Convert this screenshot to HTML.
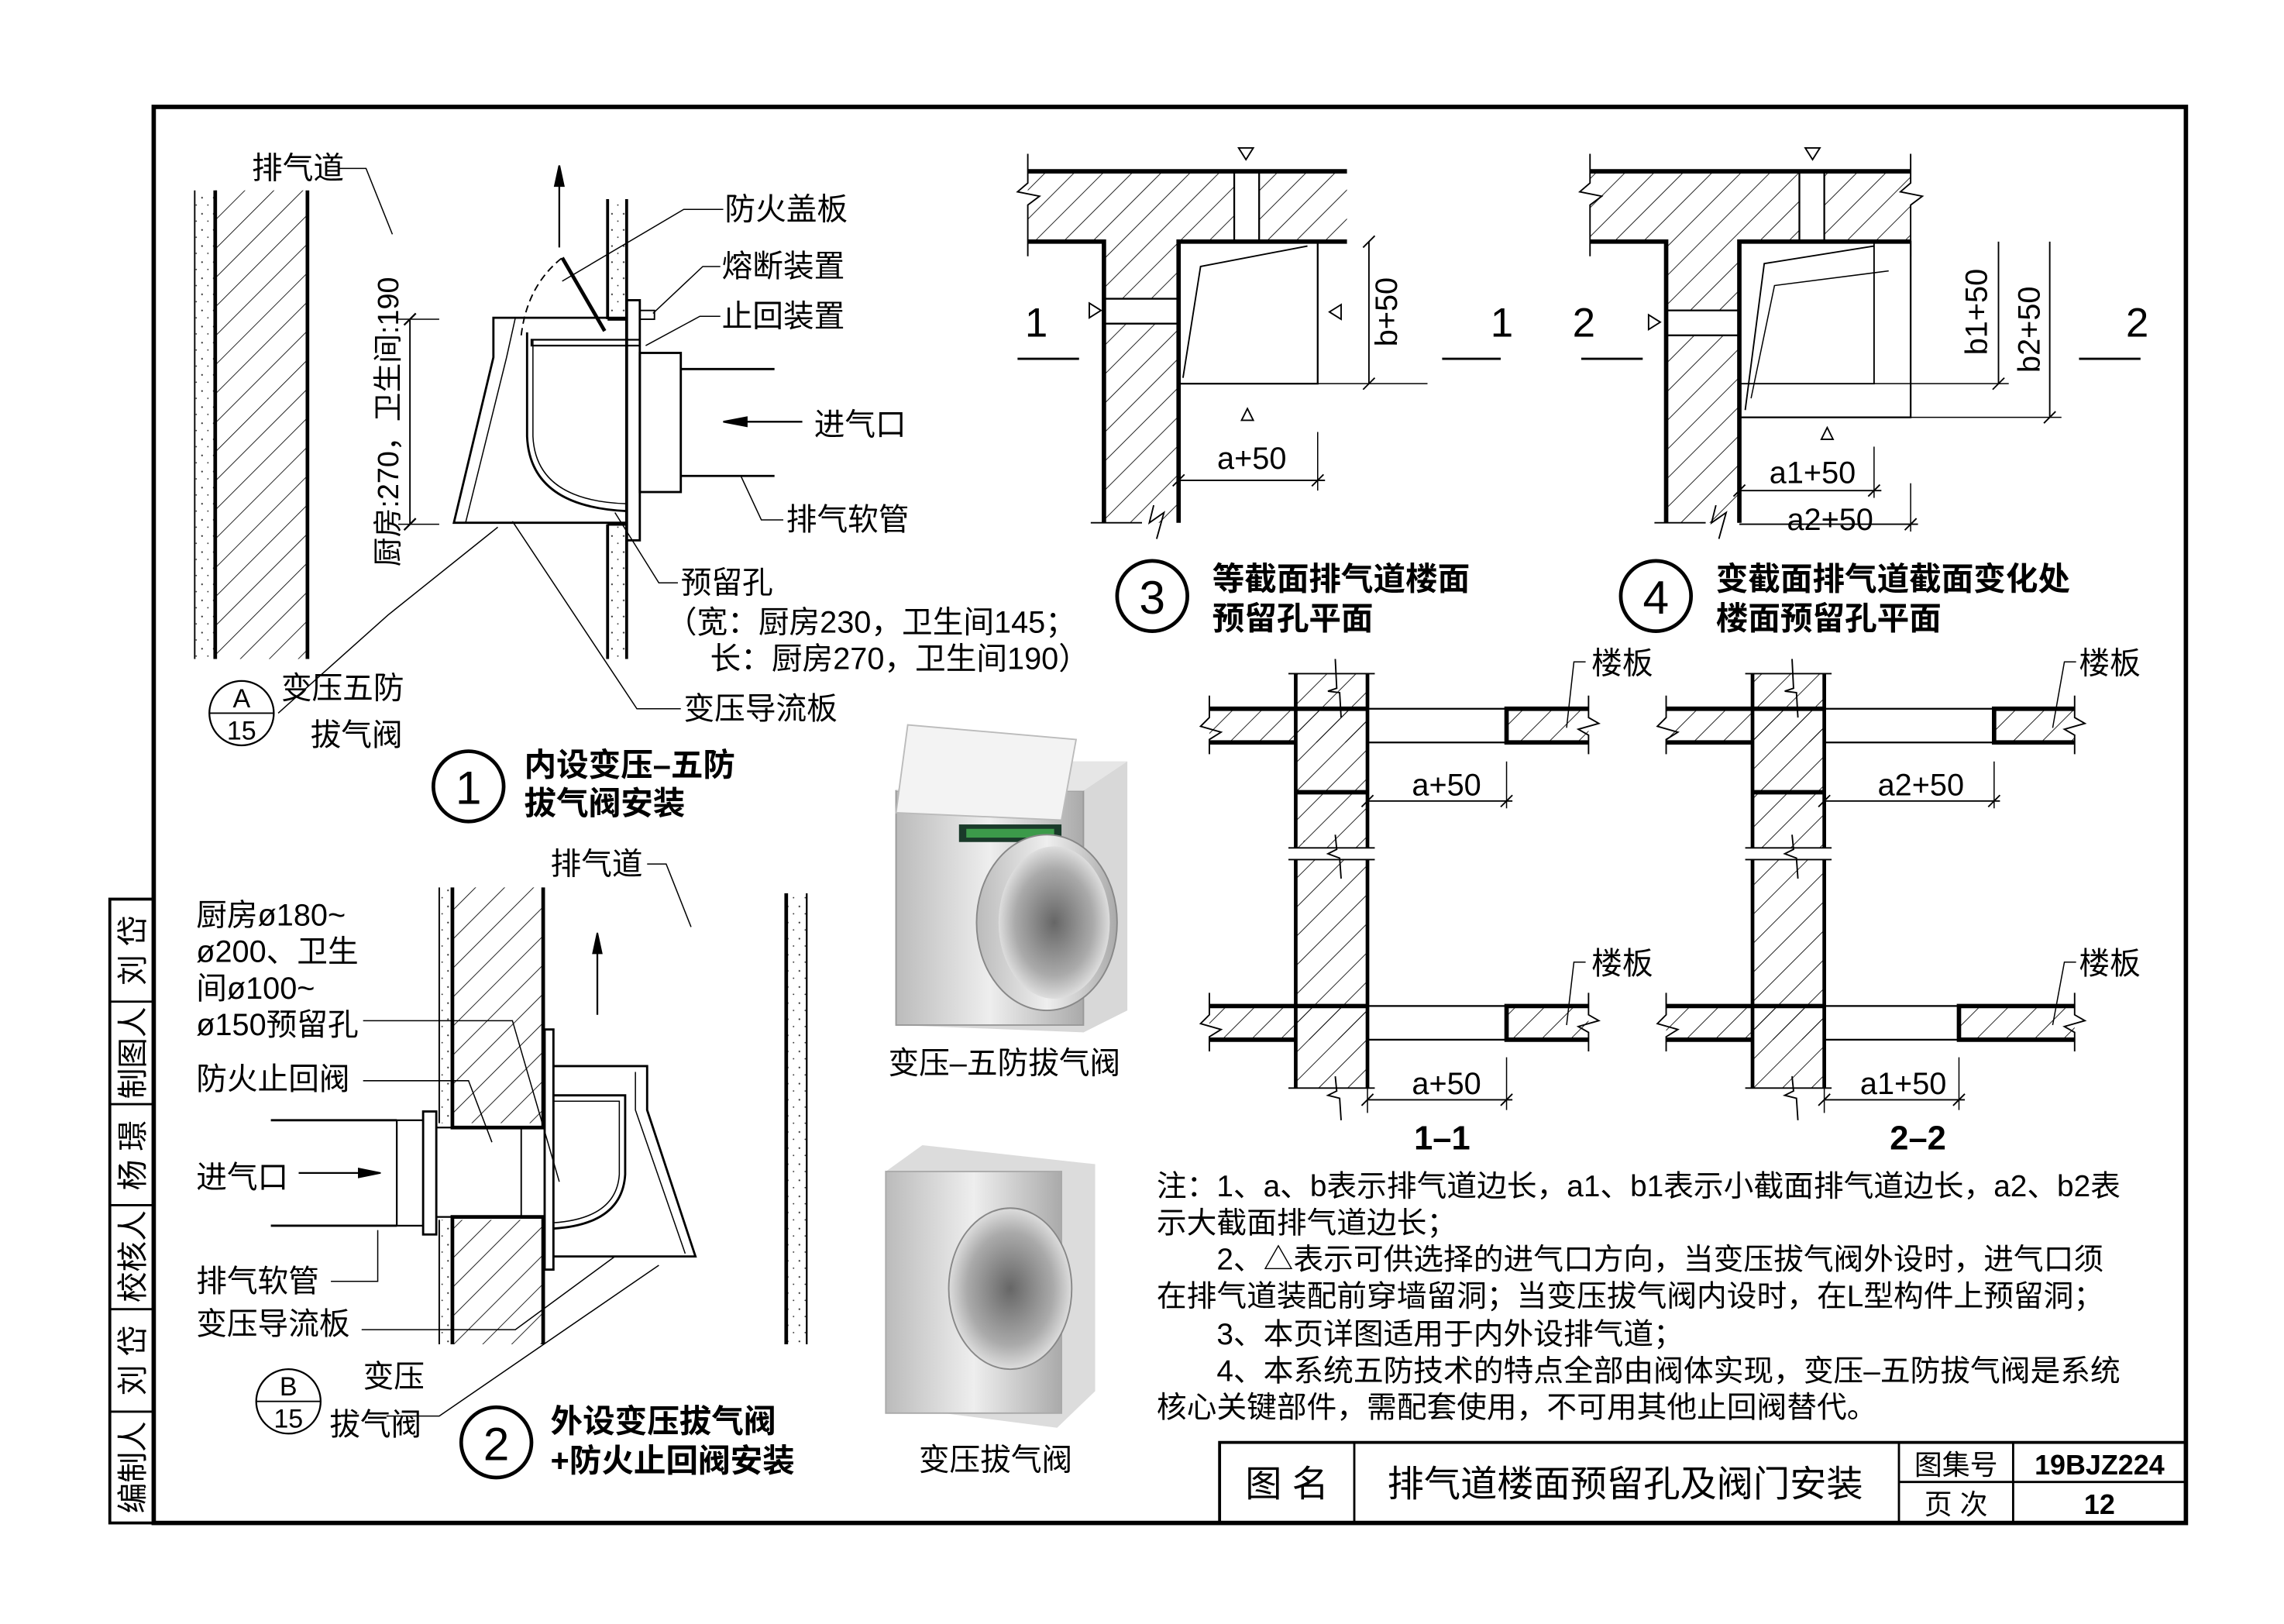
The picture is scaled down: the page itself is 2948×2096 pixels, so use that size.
<!DOCTYPE html>
<html><head><meta charset="utf-8"><style>
html,body{margin:0;padding:0;background:#fff}
svg{display:block}
text{font-family:"Liberation Sans","Noto Sans CJK SC",sans-serif;fill:#000}
.b{font-weight:bold}
</style></head><body>
<svg width="2948" height="2096" viewBox="0 0 1560 1109" preserveAspectRatio="none" xmlns="http://www.w3.org/2000/svg">
<defs>
<pattern id="h" width="14" height="14" patternUnits="userSpaceOnUse" patternTransform="rotate(45)"><line x1="0" y1="0" x2="0" y2="14" stroke="#000" stroke-width="0.9"/></pattern>
<pattern id="d" width="8" height="11" patternUnits="userSpaceOnUse"><circle cx="2" cy="3" r="0.6" fill="#333"/><circle cx="6" cy="8" r="0.5" fill="#333"/></pattern>
<linearGradient id="g1" x1="0" x2="1"><stop offset="0" stop-color="#bbb"/><stop offset="0.5" stop-color="#eee"/><stop offset="1" stop-color="#aaa"/></linearGradient>
<radialGradient id="g2"><stop offset="0" stop-color="#666"/><stop offset="0.7" stop-color="#aaa"/><stop offset="1" stop-color="#ddd"/></radialGradient>
</defs>
<rect x="0" y="0" width="1560" height="1109" fill="#fff"/>
<!-- frame -->
<rect x="105" y="73" width="1388" height="967" fill="none" stroke="#000" stroke-width="3"/>
<rect x="75" y="614" width="30" height="426" fill="none" stroke="#000" stroke-width="2"/>
<g stroke="#000" stroke-width="1.5"><line x1="75" y1="684" x2="105" y2="684"/><line x1="75" y1="754" x2="105" y2="754"/><line x1="75" y1="823" x2="105" y2="823"/><line x1="75" y1="894" x2="105" y2="894"/><line x1="75" y1="964" x2="105" y2="964"/></g>
<g font-size="21">
<text transform="translate(98,649) rotate(-90)" text-anchor="middle">刘 岱</text>
<text transform="translate(98,719) rotate(-90)" text-anchor="middle">制图人</text>
<text transform="translate(98,789) rotate(-90)" text-anchor="middle">杨 璟</text>
<text transform="translate(98,858) rotate(-90)" text-anchor="middle">校核人</text>
<text transform="translate(98,929) rotate(-90)" text-anchor="middle">刘 岱</text>
<text transform="translate(98,1002) rotate(-90)" text-anchor="middle">编制人</text>
</g>
<!-- title block -->
<g stroke="#000" fill="none"><rect x="833" y="985" width="660" height="55" stroke-width="2"/>
<line x1="925" y1="985" x2="925" y2="1040" stroke-width="1.5"/><line x1="1297" y1="985" x2="1297" y2="1040" stroke-width="1.5"/><line x1="1375" y1="985" x2="1375" y2="1040" stroke-width="1.5"/><line x1="1297" y1="1012" x2="1493" y2="1012" stroke-width="1.5"/></g>
<text x="879" y="1022" font-size="25" text-anchor="middle">图 名</text>
<text x="1110" y="1022" font-size="25" text-anchor="middle">排气道楼面预留孔及阀门安装</text>
<text x="1336" y="1007" font-size="19" text-anchor="middle">图集号</text>
<text x="1336" y="1034" font-size="19" text-anchor="middle">页 次</text>
<text x="1434" y="1007" font-size="19" class="b" text-anchor="middle">19BJZ224</text>
<text x="1434" y="1034" font-size="19" class="b" text-anchor="middle">12</text>

<!-- DETAIL 1 -->
<rect x="133" y="130" width="14" height="320" fill="url(#d)"/>
<rect x="147" y="130" width="63" height="320" fill="url(#h)"/>
<g stroke="#000"><line x1="133" y1="130" x2="133" y2="450" stroke-width="1"/><line x1="147" y1="130" x2="147" y2="450" stroke-width="2.5"/><line x1="210" y1="130" x2="210" y2="450" stroke-width="2.5"/></g>
<rect x="415" y="136" width="13" height="82" fill="url(#d)"/><rect x="415" y="358" width="13" height="92" fill="url(#d)"/>
<g stroke="#000" stroke-width="2" fill="none">
<line x1="415" y1="136" x2="415" y2="218"/><line x1="428" y1="136" x2="428" y2="450"/><line x1="415" y1="358" x2="415" y2="450"/>
<line x1="415" y1="218" x2="428" y2="218"/><line x1="415" y1="358" x2="428" y2="358"/>
<rect x="428" y="205" width="9" height="164" stroke-width="1.5"/>
<rect x="437" y="241" width="28" height="95" stroke-width="1.5"/>
<line x1="465" y1="252" x2="529" y2="252" stroke-width="1.5"/><line x1="465" y1="325" x2="529" y2="325" stroke-width="1.5"/>
<path d="M428,217 H337 V244 L310,357 H428" stroke-width="1.5"/>
<path d="M352,217 L346,244 L318,357" stroke-width="0.8"/>
<path d="M360,227 V298 Q362,346 428,349" stroke-width="1.5"/>
<path d="M364,232 V298 Q366,342 428,344" stroke-width="0.8"/>
<rect x="363" y="232" width="74" height="4" stroke-width="1.2"/>
<line x1="384" y1="176" x2="413" y2="226" stroke-width="2.5"/>
<path d="M356,229 Q360,195 384,176" stroke-dasharray="5,3" stroke-width="1"/>
<rect x="437" y="212" width="10" height="6" stroke-width="1"/>
</g>
<g stroke="#000" stroke-width="1.2" fill="none">
<line x1="382" y1="169" x2="382" y2="123"/><path d="M382,113 L379,127 H385 Z" fill="#000"/>
<line x1="548" y1="288" x2="505" y2="288"/><path d="M494,288 L510,285 V291 Z" fill="#000"/>
<line x1="280" y1="218" x2="280" y2="358" stroke-width="1"/><line x1="272" y1="218" x2="300" y2="218" stroke-width="0.8"/><line x1="272" y1="358" x2="300" y2="358" stroke-width="0.8"/>
<line x1="276" y1="222" x2="284" y2="214"/><line x1="276" y1="362" x2="284" y2="354"/>
<polyline points="232,115 250,115 268,160" stroke-width="0.8"/>
<polyline points="494,143 467,143 384,192" stroke-width="0.8"/>
<polyline points="492,182 480,182 446,214" stroke-width="0.8"/>
<polyline points="492,216 478,216 441,236" stroke-width="0.8"/>
<polyline points="535,355 520,355 506,325" stroke-width="0.8"/>
<polyline points="463,398 450,398 420,350" stroke-width="0.8"/>
<polyline points="465,484 435,484 350,356" stroke-width="0.8"/>
<polyline points="190,487 265,420 340,360" stroke-width="0.8"/>
</g>
<text transform="translate(272,288) rotate(-90)" font-size="20" text-anchor="middle">厨房:270，卫生间:190</text>
<g font-size="21">
<text x="172" y="122">排气道</text>
<text x="495" y="150">防火盖板</text>
<text x="493" y="189">熔断装置</text>
<text x="493" y="223">止回装置</text>
<text x="556" y="297">进气口</text>
<text x="537" y="362">排气软管</text>
<text x="465" y="405">预留孔</text>
<text x="455" y="432">（宽：厨房230，卫生间145；</text>
<text x="485" y="457">长：厨房270，卫生间190）</text>
<text x="467" y="491">变压导流板</text>
<text x="192" y="477">变压五防</text>
<text x="212" y="509">拔气阀</text>
</g>
<circle cx="165" cy="487" r="22" fill="none" stroke="#000" stroke-width="1.2"/><line x1="143" y1="487" x2="187" y2="487" stroke="#000"/>
<text x="165" y="483" font-size="18" text-anchor="middle">A</text><text x="165" y="505" font-size="18" text-anchor="middle">15</text>
<circle cx="320" cy="537" r="24" fill="none" stroke="#000" stroke-width="2.5"/><text x="320" y="549" font-size="32" text-anchor="middle">1</text>
<text x="358" y="530" font-size="22" class="b">内设变压–五防</text><text x="358" y="556" font-size="22" class="b">拔气阀安装</text>

<!-- DETAIL 2 -->
<rect x="300" y="606" width="9" height="161" fill="url(#d)"/><rect x="300" y="833" width="9" height="85" fill="url(#d)"/>
<rect x="309" y="606" width="62" height="161" fill="url(#h)"/><rect x="309" y="833" width="62" height="85" fill="url(#h)"/>
<rect x="537" y="610" width="14" height="308" fill="url(#d)"/>
<g stroke="#000" fill="none">
<line x1="300" y1="606" x2="300" y2="767" stroke-width="1"/><line x1="300" y1="833" x2="300" y2="918" stroke-width="1"/>
<path d="M309,606 V770 H371 V606" stroke-width="2.5"/><path d="M309,918 V831 H371 V918" stroke-width="2.5"/>
<line x1="537" y1="610" x2="537" y2="918" stroke-width="2.5"/><line x1="551" y1="610" x2="551" y2="918" stroke-width="1.2"/>
<rect x="289" y="759" width="9" height="84" stroke-width="1.5"/>
<rect x="271" y="765" width="18" height="72" stroke-width="1.2"/>
<line x1="185" y1="765" x2="271" y2="765" stroke-width="1.5"/><line x1="185" y1="837" x2="271" y2="837" stroke-width="1.5"/>
<line x1="298" y1="770" x2="372" y2="770" stroke-width="1.2"/><line x1="298" y1="831" x2="372" y2="831" stroke-width="1.2"/>
<rect x="356" y="770" width="16" height="61" stroke-width="1"/>
<rect x="372" y="703" width="6" height="164" stroke-width="1.5"/>
<path d="M378,728 H442 V758 L475,858 H378" stroke-width="1.5"/>
<path d="M434,732 V758 L468,856" stroke-width="0.8"/>
<path d="M378,748 H427 V802 Q425,836 378,839" stroke-width="1.5"/>
<path d="M378,752 H423 V802 Q421,832 378,835" stroke-width="0.8"/>
<line x1="408" y1="693" x2="408" y2="647" stroke-width="1.2"/><path d="M408,637 L405,651 H411 Z" fill="#000"/>
<line x1="204" y1="801" x2="250" y2="801" stroke-width="1.2"/><path d="M260,801 L245,798 V804 Z" fill="#000"/>
<g stroke-width="0.8">
<polyline points="442,590 455,590 472,633"/>
<polyline points="248,697 350,697 382,807"/>
<polyline points="248,738 320,738 336,780"/>
<polyline points="226,875 258,875 258,840"/>
<polyline points="247,908 352,908 420,858"/>
<polyline points="264,967 300,967 450,864"/>
</g>
</g>
<g font-size="21">
<text x="376" y="597">排气道</text>
<text x="134" y="632">厨房ø180~</text>
<text x="134" y="657">ø200、卫生</text>
<text x="134" y="682">间ø100~</text>
<text x="134" y="707">ø150预留孔</text>
<text x="134" y="744">防火止回阀</text>
<text x="134" y="811">进气口</text>
<text x="134" y="882">排气软管</text>
<text x="134" y="911">变压导流板</text>
<text x="248" y="947">变压</text>
<text x="225" y="980">拔气阀</text>
</g>
<circle cx="197" cy="957" r="22" fill="none" stroke="#000" stroke-width="1.2"/><line x1="175" y1="957" x2="219" y2="957" stroke="#000"/>
<text x="197" y="953" font-size="18" text-anchor="middle">B</text><text x="197" y="975" font-size="18" text-anchor="middle">15</text>
<circle cx="339" cy="985" r="24" fill="none" stroke="#000" stroke-width="2.5"/><text x="339" y="997" font-size="32" text-anchor="middle">2</text>
<text x="376" y="978" font-size="22" class="b">外设变压拔气阀</text><text x="376" y="1005" font-size="22" class="b">+防火止回阀安装</text>

<!-- PHOTOS -->
<path d="M612,540 L640,520 L770,520 L770,690 L740,705 L612,700 Z" fill="#d8d8d8"/>
<rect x="612" y="540" width="128" height="160" fill="url(#g1)" stroke="#999"/>
<path d="M640,520 L770,520 L740,540 L612,540 Z" fill="#e6e6e6"/>
<path d="M620,495 L735,505 L725,560 L612,555 Z" fill="#f3f3f3" stroke="#bbb"/>
<rect x="655" y="563" width="70" height="12" fill="#1a3a2a"/><rect x="660" y="566" width="60" height="6" fill="#3c9a4a"/>
<ellipse cx="715" cy="630" rx="48" ry="60" fill="url(#g1)" stroke="#888"/>
<ellipse cx="720" cy="630" rx="38" ry="52" fill="url(#g2)"/>
<text x="686" y="733" font-size="21" text-anchor="middle">变压–五防拔气阀</text>
<path d="M605,800 L630,782 L748,795 L748,950 L722,975 L605,960 Z" fill="#dcdcdc"/>
<rect x="605" y="800" width="120" height="165" fill="url(#g1)" stroke="#aaa"/>
<ellipse cx="690" cy="880" rx="42" ry="55" fill="url(#g2)" stroke="#888"/>
<text x="680" y="1004" font-size="21" text-anchor="middle">变压拔气阀</text>

<!-- DETAIL 3 -->
<path d="M702,117 H920 V165 H805 V357 H754 V165 H702 Z" fill="url(#h)"/>
<rect x="843" y="117" width="17" height="49" fill="#fff"/>
<rect x="755" y="204" width="49" height="17" fill="#fff"/>
<g stroke="#000" fill="none">
<line x1="702" y1="117" x2="920" y2="117" stroke-width="3"/>
<path d="M702,165 H754 V357" stroke-width="3"/><path d="M920,165 H805 V357" stroke-width="3"/>
<line x1="843" y1="117" x2="843" y2="165" stroke-width="1.2"/><line x1="860" y1="117" x2="860" y2="165" stroke-width="1.2"/>
<line x1="754" y1="204" x2="805" y2="204" stroke-width="1.2"/><line x1="754" y1="221" x2="805" y2="221" stroke-width="1.2"/>
<polyline points="702,105 702,125 695,131 710,134 702,140 702,175" stroke-width="1"/>
<polyline points="745,357 780,357" stroke-width="1"/><polyline points="788,345 785,357 795,350 790,368" stroke-width="1"/>
<rect x="805" y="165" width="95" height="97" stroke-width="1.2"/>
<polyline points="808,258 820,182 893,168" stroke-width="1"/>
<line x1="935" y1="165" x2="935" y2="262" stroke-width="1"/><line x1="900" y1="262" x2="975" y2="262" stroke-width="0.8"/>
<line x1="931" y1="169" x2="939" y2="161"/><line x1="931" y1="266" x2="939" y2="258"/>
<line x1="805" y1="328" x2="905" y2="328" stroke-width="1"/><line x1="900" y1="295" x2="900" y2="335" stroke-width="0.8"/>
<line x1="801" y1="332" x2="809" y2="324"/><line x1="896" y1="332" x2="904" y2="324"/>
<line x1="695" y1="245" x2="737" y2="245" stroke-width="1.5"/><line x1="985" y1="245" x2="1025" y2="245" stroke-width="1.5"/>
<path d="M846,101 L856,101 L851,109 Z" stroke-width="1"/>
<path d="M744,207 L752,212 L744,217 Z" stroke-width="1"/>
<path d="M916,208 L908,213 L916,218 Z" stroke-width="1"/>
<path d="M848,287 L856,287 L852,279 Z" stroke-width="1"/>
</g>
<text x="700" y="230" font-size="28">1</text><text x="1018" y="230" font-size="28">1</text>
<text transform="translate(954,213) rotate(-90)" font-size="21" text-anchor="middle">b+50</text>
<text x="855" y="320" font-size="21" text-anchor="middle">a+50</text>
<circle cx="787" cy="407" r="24" fill="none" stroke="#000" stroke-width="2.5"/><text x="787" y="419" font-size="32" text-anchor="middle">3</text>
<text x="828" y="403" font-size="22" class="b">等截面排气道楼面</text><text x="828" y="430" font-size="22" class="b">预留孔平面</text>

<!-- DETAIL 4 -->
<path d="M1086,117 H1305 V165 H1188 V357 H1138 V165 H1086 Z" fill="url(#h)"/>
<rect x="1229" y="117" width="17" height="49" fill="#fff"/>
<rect x="1139" y="212" width="49" height="17" fill="#fff"/>
<g stroke="#000" fill="none">
<line x1="1086" y1="117" x2="1305" y2="117" stroke-width="3"/>
<path d="M1086,165 H1138 V357" stroke-width="3"/><path d="M1305,165 H1188 V357" stroke-width="3"/>
<line x1="1229" y1="117" x2="1229" y2="165" stroke-width="1.2"/><line x1="1246" y1="117" x2="1246" y2="165" stroke-width="1.2"/>
<line x1="1138" y1="212" x2="1188" y2="212" stroke-width="1.2"/><line x1="1138" y1="229" x2="1188" y2="229" stroke-width="1.2"/>
<polyline points="1086,105 1086,125 1079,131 1094,134 1086,140 1086,175" stroke-width="1"/>
<polyline points="1305,105 1305,125 1298,131 1313,134 1305,140 1305,175" stroke-width="1"/>
<polyline points="1130,357 1165,357" stroke-width="1"/><polyline points="1172,345 1169,357 1179,350 1174,368" stroke-width="1"/>
<rect x="1188" y="165" width="117" height="120" stroke-width="1.2"/>
<rect x="1188" y="165" width="92" height="97" stroke-width="1"/>
<polyline points="1192,280 1205,180 1280,168" stroke-width="1"/>
<polyline points="1196,272 1212,195 1290,185" stroke-width="0.8"/>
<line x1="1365" y1="165" x2="1365" y2="262" stroke-width="1"/><line x1="1280" y1="262" x2="1372" y2="262" stroke-width="0.8"/>
<line x1="1400" y1="165" x2="1400" y2="285" stroke-width="1"/><line x1="1305" y1="285" x2="1408" y2="285" stroke-width="0.8"/>
<line x1="1361" y1="266" x2="1369" y2="258"/><line x1="1396" y1="289" x2="1404" y2="281"/>
<line x1="1188" y1="335" x2="1285" y2="335" stroke-width="1"/><line x1="1280" y1="305" x2="1280" y2="340" stroke-width="0.8"/>
<line x1="1188" y1="358" x2="1310" y2="358" stroke-width="1"/><line x1="1305" y1="330" x2="1305" y2="363" stroke-width="0.8"/>
<line x1="1184" y1="339" x2="1192" y2="331"/><line x1="1276" y1="339" x2="1284" y2="331"/><line x1="1301" y1="362" x2="1309" y2="354"/>
<line x1="1080" y1="245" x2="1122" y2="245" stroke-width="1.5"/><line x1="1420" y1="245" x2="1462" y2="245" stroke-width="1.5"/>
<path d="M1233,101 L1243,101 L1238,109 Z" stroke-width="1"/>
<path d="M1126,215 L1134,220 L1126,225 Z" stroke-width="1"/>
<path d="M1252,300 L1244,300 L1248,292 Z" stroke-width="1"/>
</g>
<text x="1074" y="230" font-size="28">2</text><text x="1452" y="230" font-size="28">2</text>
<text transform="translate(1357,213) rotate(-90)" font-size="21" text-anchor="middle">b1+50</text>
<text transform="translate(1393,225) rotate(-90)" font-size="21" text-anchor="middle">b2+50</text>
<text x="1238" y="330" font-size="21" text-anchor="middle">a1+50</text>
<text x="1250" y="362" font-size="21" text-anchor="middle">a2+50</text>
<circle cx="1131" cy="407" r="24" fill="none" stroke="#000" stroke-width="2.5"/><text x="1131" y="419" font-size="32" text-anchor="middle">4</text>
<text x="1172" y="403" font-size="22" class="b">变截面排气道截面变化处</text><text x="1172" y="430" font-size="22" class="b">楼面预留孔平面</text>

<!-- SECTIONS 1-1 -->
<g>
<path d="M885,460 H934 V743 H885 Z" fill="url(#h)"/>
<path d="M826,484 H934 V507 H826 Z" fill="url(#h)"/>
<path d="M826,687 H934 V710 H826 Z" fill="url(#h)"/>
<rect x="1029" y="484" width="56" height="23" fill="url(#h)"/><rect x="1029" y="687" width="56" height="23" fill="url(#h)"/>
<rect x="880" y="579" width="60" height="8" fill="#fff"/>
<g stroke="#000" fill="none">
<line x1="885" y1="460" x2="885" y2="579" stroke-width="2.5"/><line x1="934" y1="460" x2="934" y2="579" stroke-width="2.5"/>
<line x1="885" y1="587" x2="885" y2="743" stroke-width="2.5"/><line x1="934" y1="587" x2="934" y2="743" stroke-width="2.5"/>
<line x1="826" y1="484" x2="934" y2="484" stroke-width="3"/><path d="M826,507 H885" stroke-width="3"/>
<line x1="826" y1="687" x2="934" y2="687" stroke-width="3"/><path d="M826,710 H885" stroke-width="3"/>
<line x1="885" y1="541" x2="934" y2="541" stroke-width="3"/>
<path d="M1085,484 H1029 V507 H1085" stroke-width="3"/><path d="M1085,687 H1029 V710 H1085" stroke-width="3"/>
<line x1="934" y1="484" x2="1029" y2="484" stroke-width="1.2"/><line x1="934" y1="507" x2="1029" y2="507" stroke-width="1.2"/>
<line x1="934" y1="687" x2="1029" y2="687" stroke-width="1.2"/><line x1="934" y1="710" x2="1029" y2="710" stroke-width="1.2"/>
<line x1="880" y1="460" x2="939" y2="460" stroke-width="1"/><line x1="880" y1="579" x2="939" y2="579" stroke-width="1"/><line x1="880" y1="587" x2="939" y2="587" stroke-width="1"/><line x1="880" y1="743" x2="939" y2="743" stroke-width="1"/>
<polyline points="826,475 826,490 820,496 834,500 826,505 826,515" stroke-width="1"/>
<polyline points="826,678 826,693 820,699 834,703 826,708 826,718" stroke-width="1"/>
<polyline points="1085,475 1085,490 1092,494 1078,498 1085,502 1085,515" stroke-width="1"/>
<polyline points="1085,678 1085,693 1092,697 1078,701 1085,705 1085,718" stroke-width="1"/>
<polyline points="912,450 913,470 907,472 915,473 916,490" stroke-width="1"/>
<polyline points="912,570 913,580 907,583 915,586 916,600" stroke-width="1"/>
<polyline points="912,735 913,745 907,748 915,750 916,765" stroke-width="1"/>
<line x1="934" y1="547" x2="1033" y2="547" stroke-width="1"/><line x1="1029" y1="520" x2="1029" y2="552" stroke-width="0.8"/>
<line x1="930" y1="551" x2="938" y2="543"/><line x1="1025" y1="551" x2="1033" y2="543"/>
<line x1="934" y1="751" x2="1033" y2="751" stroke-width="1"/><line x1="1029" y1="722" x2="1029" y2="758" stroke-width="0.8"/><line x1="934" y1="743" x2="934" y2="760" stroke-width="0.8"/>
<line x1="930" y1="755" x2="938" y2="747"/><line x1="1025" y1="755" x2="1033" y2="747"/>
<polyline points="1083,452 1075,452 1070,497" stroke-width="0.8"/>
<polyline points="1083,657 1075,657 1070,700" stroke-width="0.8"/>
</g>
</g>
<text x="988" y="543" font-size="21" text-anchor="middle">a+50</text>
<text x="988" y="747" font-size="21" text-anchor="middle">a+50</text>
<text x="985" y="785" font-size="23" class="b" text-anchor="middle">1–1</text>
<text x="1087" y="460" font-size="21">楼板</text><text x="1087" y="665" font-size="21">楼板</text>

<!-- SECTIONS 2-2 -->
<g>
<path d="M1197,460 H1246 V743 H1197 Z" fill="url(#h)"/>
<path d="M1138,484 H1246 V507 H1138 Z" fill="url(#h)"/>
<path d="M1138,687 H1246 V710 H1138 Z" fill="url(#h)"/>
<rect x="1362" y="484" width="55" height="23" fill="url(#h)"/><rect x="1338" y="687" width="79" height="23" fill="url(#h)"/>
<rect x="1192" y="579" width="60" height="8" fill="#fff"/>
<g stroke="#000" fill="none">
<line x1="1197" y1="460" x2="1197" y2="579" stroke-width="2.5"/><line x1="1246" y1="460" x2="1246" y2="579" stroke-width="2.5"/>
<line x1="1197" y1="587" x2="1197" y2="743" stroke-width="2.5"/><line x1="1246" y1="587" x2="1246" y2="743" stroke-width="2.5"/>
<line x1="1138" y1="484" x2="1246" y2="484" stroke-width="3"/><path d="M1138,507 H1197" stroke-width="3"/>
<line x1="1138" y1="687" x2="1246" y2="687" stroke-width="3"/><path d="M1138,710 H1197" stroke-width="3"/>
<line x1="1197" y1="541" x2="1246" y2="541" stroke-width="3"/>
<path d="M1417,484 H1362 V507 H1417" stroke-width="3"/><path d="M1417,687 H1338 V710 H1417" stroke-width="3"/>
<line x1="1246" y1="484" x2="1362" y2="484" stroke-width="1.2"/><line x1="1246" y1="507" x2="1362" y2="507" stroke-width="1.2"/>
<line x1="1246" y1="687" x2="1338" y2="687" stroke-width="1.2"/><line x1="1246" y1="710" x2="1338" y2="710" stroke-width="1.2"/>
<line x1="1192" y1="460" x2="1251" y2="460" stroke-width="1"/><line x1="1192" y1="579" x2="1251" y2="579" stroke-width="1"/><line x1="1192" y1="587" x2="1251" y2="587" stroke-width="1"/><line x1="1192" y1="743" x2="1251" y2="743" stroke-width="1"/>
<polyline points="1138,475 1138,490 1132,496 1146,500 1138,505 1138,515" stroke-width="1"/>
<polyline points="1138,678 1138,693 1132,699 1146,703 1138,708 1138,718" stroke-width="1"/>
<polyline points="1417,475 1417,490 1424,494 1410,498 1417,502 1417,515" stroke-width="1"/>
<polyline points="1417,678 1417,693 1424,697 1410,701 1417,705 1417,718" stroke-width="1"/>
<polyline points="1224,450 1225,470 1219,472 1227,473 1228,490" stroke-width="1"/>
<polyline points="1224,570 1225,580 1219,583 1227,586 1228,600" stroke-width="1"/>
<polyline points="1224,735 1225,745 1219,748 1227,750 1228,765" stroke-width="1"/>
<line x1="1246" y1="547" x2="1366" y2="547" stroke-width="1"/><line x1="1362" y1="520" x2="1362" y2="552" stroke-width="0.8"/>
<line x1="1242" y1="551" x2="1250" y2="543"/><line x1="1358" y1="551" x2="1366" y2="543"/>
<line x1="1246" y1="751" x2="1342" y2="751" stroke-width="1"/><line x1="1338" y1="722" x2="1338" y2="758" stroke-width="0.8"/><line x1="1246" y1="743" x2="1246" y2="760" stroke-width="0.8"/>
<line x1="1242" y1="755" x2="1250" y2="747"/><line x1="1334" y1="755" x2="1342" y2="747"/>
<polyline points="1418,452 1410,452 1402,497" stroke-width="0.8"/>
<polyline points="1418,657 1410,657 1402,700" stroke-width="0.8"/>
</g>
</g>
<text x="1312" y="543" font-size="21" text-anchor="middle">a2+50</text>
<text x="1300" y="747" font-size="21" text-anchor="middle">a1+50</text>
<text x="1310" y="785" font-size="23" class="b" text-anchor="middle">2–2</text>
<text x="1420" y="460" font-size="21">楼板</text><text x="1420" y="665" font-size="21">楼板</text>

<!-- NOTES -->
<g font-size="20.5">
<text x="790" y="817">注：1、a、b表示排气道边长，a1、b1表示小截面排气道边长，a2、b2表</text>
<text x="790" y="842">示大截面排气道边长；</text>
<text x="831" y="867">2、△表示可供选择的进气口方向，当变压拔气阀外设时，进气口须</text>
<text x="790" y="892">在排气道装配前穿墙留洞；当变压拔气阀内设时，在L型构件上预留洞；</text>
<text x="831" y="918">3、本页详图适用于内外设排气道；</text>
<text x="831" y="943">4、本系统五防技术的特点全部由阀体实现，变压–五防拔气阀是系统</text>
<text x="790" y="968">核心关键部件，需配套使用，不可用其他止回阀替代。</text>
</g>
</svg>
</body></html>
